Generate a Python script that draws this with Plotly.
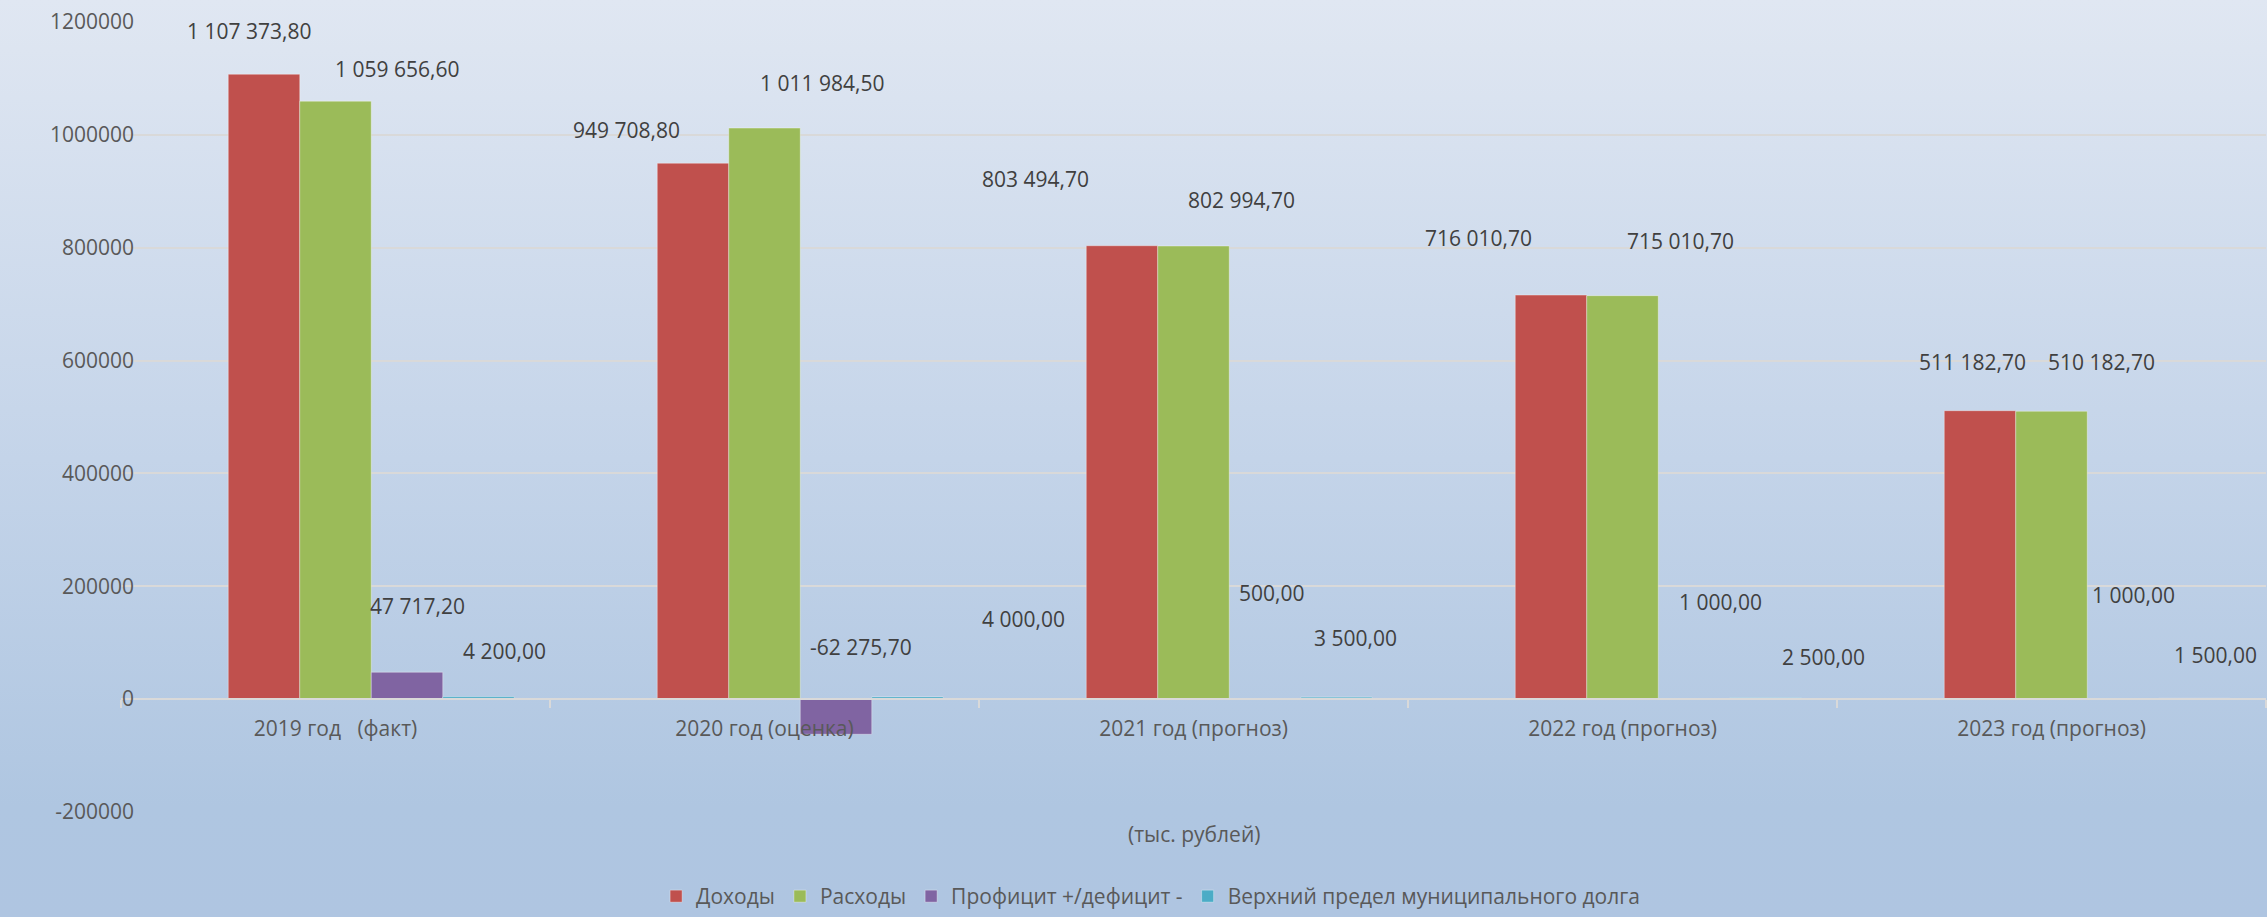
import base64
import plotly.graph_objects as go

# ---------------- data ----------------
categories = ["2019 год   (факт)", "2020 год (оценка)", "2021 год (прогноз)",
              "2022 год (прогноз)", "2023 год (прогноз)"]
dohody = [1107373.80, 949708.80, 803494.70, 716010.70, 511182.70]
rashody = [1059656.60, 1011984.50, 802994.70, 715010.70, 510182.70]
profit = [47717.20, -62275.70, 500.00, 1000.00, 1000.00]
dolg = [4200.00, 4000.00, 3500.00, 2500.00, 1500.00]
series_names = ["Доходы", "Расходы", "Профицит +/дефицит -",
                "Верхний предел муниципального долга"]
y_tick_values = [-200000, 0, 200000, 400000, 600000, 800000, 1000000, 1200000]
axis_title = "(тыс. рублей)"

# ---------------- style ----------------
W, H = 2267, 917
ML, MR, MT, MB = 121, 1, 22, 105
PW, PH = W - ML - MR, H - MT - MB
colors = ["#C0504D", "#9BBB59", "#8064A2", "#4BACC6"]
FONT = "'Open Sans', Lato, sans-serif"
LABEL_COLOR = "#404040"
TICK_COLOR = "#595959"
GRID = "#D9D9D9"

# manual label placement (pixel shifts from bar value at category center)
label_shifts = [
    [(-87, 43), (-138, 33), (-158, 67), (-144, 57), (-79, 49)],
    [(61, 32), (57, 45), (48, 46), (58, 55), (50, 49)],
    [(82, 66), (96, 87), (78, 106), (98, 97), (82, 104)],
    [(169, 46), (259, 78), (162, 59), (201, 41), (164, 43)],
]

def fmt_ru(v):
    return f"{v:,.2f}".replace(",", " ").replace(".", ",")

cats = [c.replace(" ", "\u00a0") for c in categories]

fig = go.Figure()
# empty first series of the original chart (keeps the slot on the left)
fig.add_trace(go.Bar(x=cats, y=[None] * len(cats), showlegend=False,
                     hoverinfo="skip", name=""))
for name, vals, col in zip(series_names, [dohody, rashody, profit, dolg], colors):
    fig.add_trace(go.Bar(x=cats, y=vals, name=name,
                         marker=dict(color=col,
                                     line=dict(color="rgba(255,255,255,0.35)", width=1))))

annotations = []
for vals, shifts in zip([dohody, rashody, profit, dolg], label_shifts):
    for c, v, (dx, dy) in zip(cats, vals, shifts):
        annotations.append(dict(x=c, y=v, xref="x", yref="y", text=fmt_ru(v),
                                showarrow=False, xshift=dx, yshift=dy,
                                xanchor="center", yanchor="middle",
                                font=dict(family=FONT, size=21, color=LABEL_COLOR)))
annotations.append(dict(x=0.5, y=0, xref="paper", yref="paper", text=axis_title,
                        showarrow=False, yshift=-22, xanchor="center", yanchor="middle",
                        font=dict(family=FONT, size=21, color=TICK_COLOR)))

# background gradient as an SVG image
svg = ('<svg xmlns="http://www.w3.org/2000/svg" width="100" height="100" '
       'viewBox="0 0 100 100" preserveAspectRatio="none">'
       '<defs><linearGradient id="g" x1="0" y1="0" x2="0" y2="1">'
       '<stop offset="0" stop-color="#E0E7F2"/>'
       '<stop offset="0.5" stop-color="#C4D4E9"/>'
       '<stop offset="0.88" stop-color="#AFC6E1"/>'
       '<stop offset="1" stop-color="#AFC5E1"/>'
       '</linearGradient></defs>'
       '<rect x="0" y="0" width="100" height="100" fill="url(#g)"/></svg>')
bg_src = "data:image/svg+xml;base64," + base64.b64encode(svg.encode()).decode()

ymin, ymax = y_tick_values[0], y_tick_values[-1]
zero_pos = (0 - ymin) / (ymax - ymin)

fig.update_layout(
    width=W, height=H,
    margin=dict(l=ML, r=MR, t=MT, b=MB, autoexpand=False),
    paper_bgcolor="#AFC5E1",
    plot_bgcolor="rgba(0,0,0,0)",
    barmode="group", bargap=1 / 6, bargroupgap=0,
    font=dict(family=FONT, size=21, color=TICK_COLOR),
    images=[dict(source=bg_src, xref="paper", yref="paper",
                 x=-ML / PW, y=1 + MT / PH, sizex=W / PW, sizey=H / PH,
                 xanchor="left", yanchor="top", sizing="stretch", layer="below")],
    xaxis=dict(anchor="free", position=zero_pos, showgrid=False,
               showline=True, linecolor=GRID, linewidth=2,
               ticks="outside", tickson="boundaries", ticklen=8,
               tickcolor=GRID, tickwidth=2, ticklabelstandoff=11,
               tickfont=dict(family=FONT, size=21, color=TICK_COLOR),
               automargin=False),
    yaxis=dict(range=[ymin, ymax], tickvals=y_tick_values,
               ticktext=[str(v) for v in y_tick_values],
               showgrid=True, gridcolor=GRID, gridwidth=2, zeroline=False,
               ticks="", ticklen=0, ticklabelstandoff=-14,
               tickfont=dict(family=FONT, size=21, color=TICK_COLOR),
               automargin=False),
    legend=dict(orientation="h", x=0.48, xanchor="center", y=-105 / PH, yanchor="bottom",
                font=dict(family=FONT, size=21, color=TICK_COLOR),
                bgcolor="rgba(0,0,0,0)", itemwidth=30),
    annotations=annotations,
    showlegend=True,
)

fig.write_html("out.html",
               config={"displayModeBar": False},
               post_script="document.body.style.margin='0';document.body.style.padding='0';")
